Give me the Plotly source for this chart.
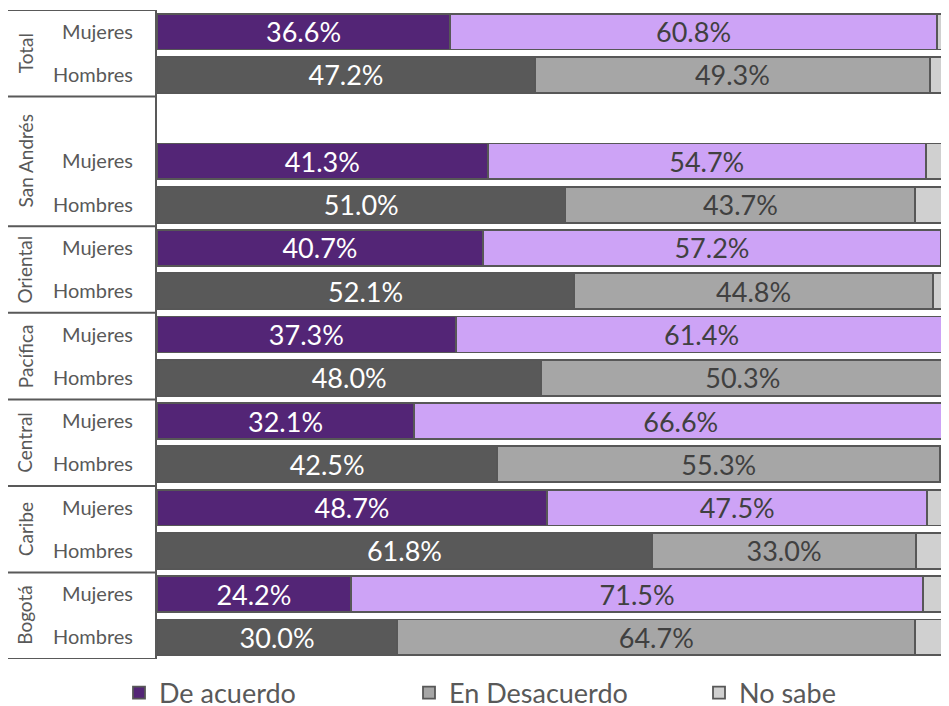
import plotly.graph_objects as go

# ---------------- data ----------------
regions = ["Total", "San Andrés", "Oriental", "Pacífica", "Central", "Caribe", "Bogotá"]
genders = ["Mujeres", "Hombres"]
series_names = ["De acuerdo", "En Desacuerdo", "No sabe"]

acuerdo_mujeres = [36.6, 41.3, 40.7, 37.3, 32.1, 48.7, 24.2]
acuerdo_hombres = [47.2, 51.0, 52.1, 48.0, 42.5, 61.8, 30.0]
desacuerdo_mujeres = [60.8, 54.7, 57.2, 61.4, 66.6, 47.5, 71.5]
desacuerdo_hombres = [49.3, 43.7, 44.8, 50.3, 55.3, 33.0, 64.7]
nosabe_mujeres = [2.6, 4.0, 2.1, 1.3, 1.3, 3.8, 4.3]
nosabe_hombres = [3.5, 5.3, 3.1, 1.7, 2.2, 5.2, 5.3]

# ---------------- layout helpers ----------------
extra_blank = {"San Andrés": 1}  # empty row above the group
FONT = "Lato"
GRAY_TXT = "#595959"
C_PURPLE = "#532576"
C_LPURPLE = "#CDA3F6"
C_DGRAY = "#595959"
C_MGRAY = "#A6A6A6"
C_LGRAY = "#D0D0D0"
OUTLINE = "#575757"

rows_m, rows_h, group_bounds, group_centers = [], [], [], []
cur = 0
for r in regions:
    start = cur
    cur += extra_blank.get(r, 0)
    rows_m.append(cur)
    rows_h.append(cur + 1)
    cur += 2
    group_bounds.append(start - 0.5)
    group_centers.append((start + cur - 1) / 2)
group_bounds.append(cur - 0.5)
n_rows = cur

fig = go.Figure()


def add(x, rows, color, name, textcolor, show, rank, text=True):
    fig.add_trace(go.Bar(
        x=x, y=rows, orientation="h", name=name,
        marker=dict(color=color, line=dict(color=OUTLINE, width=1.8)),
        width=0.83,
        texttemplate="%{x:.1f}%" if text else None,
        textposition="inside" if text else "none",
        insidetextanchor="middle", textangle=0,
        constraintext="none",
        textfont=dict(family=FONT, size=27, color=textcolor),
        showlegend=show, legendrank=rank, legendgroup=name,
        hoverinfo="x+name",
    ))


add(acuerdo_mujeres, rows_m, C_PURPLE, series_names[0], "white", True, 1)
add(acuerdo_hombres, rows_h, C_DGRAY, series_names[0], "white", False, 1)
add(desacuerdo_mujeres, rows_m, C_LPURPLE, series_names[1], "#404040", False, 2)
add(desacuerdo_hombres, rows_h, C_MGRAY, series_names[1], "#404040", True, 2)
add(nosabe_mujeres, rows_m, C_LGRAY, series_names[2], "#404040", True, 3, text=False)
add(nosabe_hombres, rows_h, C_LGRAY, series_names[2], "#404040", False, 3, text=False)

# page has an 8px body margin, so the figure is 8px smaller and offset
OFF = 8
W, H = 949 - OFF, 706 - OFF
ML, MT = 157 - OFF, 10 - OFF
MB = H - (659 - OFF)
plot_w = W - ML

shapes = []
for b in group_bounds:
    shapes.append(dict(type="line", xref="paper", yref="y",
                       x0=(8 - OFF - ML) / plot_w, x1=0, y0=b, y1=b,
                       line=dict(color=GRAY_TXT, width=2)))

annotations = []
for r, c in zip(regions, group_centers):
    annotations.append(dict(text=r, xref="paper", yref="y",
                            x=(25 - OFF - ML) / plot_w, y=c, showarrow=False,
                            textangle=-90, xanchor="center", yanchor="middle",
                            font=dict(family=FONT, size=19, color=GRAY_TXT)))

tickvals = rows_m + rows_h
ticktext = [genders[0]] * len(rows_m) + [genders[1]] * len(rows_h)

fig.update_layout(
    width=W, height=H,
    margin=dict(l=ML, r=0, t=MT, b=MB, autoexpand=False),
    barmode="stack",
    plot_bgcolor="white", paper_bgcolor="white",
    xaxis=dict(range=[0, 98.9], visible=False, fixedrange=True, automargin=False),
    yaxis=dict(range=[n_rows - 0.5, -0.5], tickvals=tickvals, ticktext=ticktext,
               showgrid=False, zeroline=False, showline=True, automargin=False,
               linecolor=GRAY_TXT, linewidth=2, ticks="",
               ticklabelstandoff=18,
               tickfont=dict(family=FONT, size=20, color=GRAY_TXT)),
    shapes=shapes,
    annotations=annotations,
    legend=dict(orientation="h", x=(119 - OFF - ML) / plot_w, xanchor="left",
                y=-(693 - 659) / 649, yanchor="middle",
                entrywidth=245, entrywidthmode="pixels",
                font=dict(family=FONT, size=27, color=GRAY_TXT),
                traceorder="normal", bgcolor="rgba(0,0,0,0)"),
    font=dict(family=FONT),
)

fig.write_html("out.html")
